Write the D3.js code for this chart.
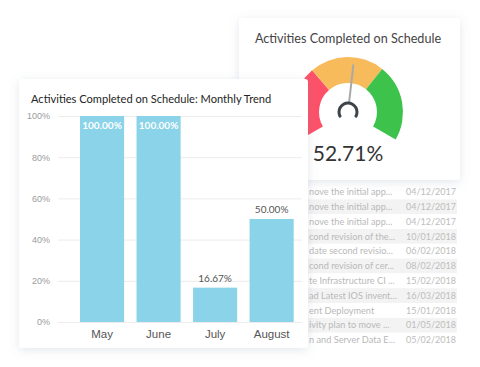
<!DOCTYPE html>
<html>

<head>
    <title>Activities Completed on Schedule</title>
    <script src="https://cdnjs.cloudflare.com/ajax/libs/d3/7.8.5/d3.min.js"></script>
    <style>
        body { margin: 0; background: #fff; }
        svg { display: block; font-family: Lato, "Open Sans", sans-serif; }
    </style>
</head>

<body>
    <div id="chart"></div>
    <script>
        // Monthly trend data
        const months = ["May", "June", "July", "August"];
        const completed = [100, 100, 16.67, 50];
        const yTicks = [0, 20, 40, 60, 80, 100];

        // Gauge data
        const gaugeValue = 52.71;
        const bandStops = [0, 33, 66, 100];
        const bandColors = ["#fc5168", "#f8bb5c", "#3dc34b"];

        // Activity table rows behind the cards
        const taskNames = ["nove the initial app...", "nove the initial app...", "nove the initial app...",
            "cond revision of the...", "date second revisio...", "cond revision of cer...",
            "te Infrastructure CI ...", "ad Latest IOS invent...", "ent Deployment",
            "ivity plan to move ...", "n and Server Data E..."];
        const taskDates = ["04/12/2017", "04/12/2017", "04/12/2017", "10/01/2018", "06/02/2018",
            "08/02/2018", "15/02/2018", "16/03/2018", "15/01/2018", "01/05/2018", "05/02/2018"];

        const svg = d3.select("#chart")
            .append("svg")
            .attr("width", 480)
            .attr("height", 367);

        const defs = svg.append("defs");
        defs.append("filter")
            .attr("id", "shadow")
            .attr("x", "-20%").attr("y", "-20%")
            .attr("width", "140%").attr("height", "140%")
            .append("feDropShadow")
            .attr("dx", 0).attr("dy", 2)
            .attr("stdDeviation", 5)
            .attr("flood-color", "#7d8fa8")
            .attr("flood-opacity", 0.22);

        // --- table in the back ---
        const rowY = d3.scaleBand()
            .domain(d3.range(taskNames.length))
            .range([184.5, 347.5]);

        const rows = svg.append("g").selectAll("g")
            .data(taskNames)
            .join("g")
            .attr("transform", (d, i) => `translate(0,${rowY(i)})`);

        rows.append("rect")
            .attr("x", 250)
            .attr("width", 207)
            .attr("height", rowY.bandwidth())
            .attr("fill", (d, i) => i % 2 ? "#f3f3f3" : "#fff");

        rows.append("text")
            .attr("x", 309)
            .attr("y", rowY.bandwidth() / 2)
            .attr("dy", "0.35em")
            .attr("font-size", 9.2)
            .attr("fill", "#b9b9b9")
            .text(d => d);

        rows.append("text")
            .attr("x", 406)
            .attr("y", rowY.bandwidth() / 2)
            .attr("dy", "0.35em")
            .attr("font-size", 9)
            .attr("fill", "#bdbdbd")
            .text((d, i) => taskDates[i]);

        // --- gauge card ---
        const gCard = svg.append("g");
        gCard.append("rect")
            .attr("x", 239).attr("y", 18)
            .attr("width", 221).attr("height", 162)
            .attr("rx", 3)
            .attr("fill", "#fff")
            .attr("filter", "url(#shadow)");

        gCard.append("text")
            .attr("x", 348).attr("y", 43)
            .attr("text-anchor", "middle")
            .attr("font-size", 12.6)
            .attr("fill", "#444")
            .text("Activities Completed on Schedule");

        const angle = d3.scaleLinear().domain([0, 100]).range([-2 * Math.PI / 3, 2 * Math.PI / 3]);
        const gauge = gCard.append("g").attr("transform", "translate(348,112)");
        const bandArc = d3.arc().innerRadius(29).outerRadius(55);

        gauge.selectAll("path.band")
            .data(bandColors)
            .join("path")
            .attr("class", "band")
            .attr("fill", d => d)
            .attr("d", (d, i) => bandArc({ startAngle: angle(bandStops[i]), endAngle: angle(bandStops[i + 1]) }));

        const a = angle(gaugeValue);
        gauge.append("line")
            .attr("x1", 10 * Math.sin(a)).attr("y1", -10 * Math.cos(a))
            .attr("x2", 47 * Math.sin(a)).attr("y2", -47 * Math.cos(a))
            .attr("stroke", "#a9a9a9")
            .attr("stroke-width", 2)
            .attr("stroke-linecap", "round");

        gauge.append("path")
            .attr("fill", "#3d4449")
            .attr("d", d3.arc().innerRadius(7.5).outerRadius(10.5).cornerRadius(1)({
                startAngle: -0.7 * Math.PI, endAngle: 0.7 * Math.PI
            }));

        gCard.append("text")
            .attr("x", 348).attr("y", 161)
            .attr("text-anchor", "middle")
            .attr("font-size", 21)
            .attr("fill", "#333")
            .text(gaugeValue.toFixed(2) + "%");

        // --- monthly trend card ---
        const bCard = svg.append("g");
        bCard.append("rect")
            .attr("x", 19).attr("y", 79)
            .attr("width", 289).attr("height", 269)
            .attr("rx", 3)
            .attr("fill", "#fff")
            .attr("filter", "url(#shadow)");

        bCard.append("text")
            .attr("x", 31).attr("y", 103)
            .attr("font-size", 11.1)
            .attr("fill", "#252525")
            .text("Activities Completed on Schedule: Monthly Trend");

        const x = d3.scaleBand()
            .domain(months)
            .range([68.7, 305])
            .paddingInner(0.22)
            .paddingOuter(0.2);

        const y = d3.scaleLinear().domain([0, 100]).range([322, 116]);

        const yAxis = bCard.append("g")
            .attr("transform", "translate(58,0)")
            .call(d3.axisLeft(y).tickValues(yTicks).tickFormat(d => d + "%").tickSize(-244).tickPadding(8));
        yAxis.select(".domain").remove();
        yAxis.selectAll(".tick line").attr("stroke", "#ececec");
        yAxis.selectAll(".tick text")
            .attr("font-size", 9)
            .attr("fill", "#9a9a9a")
            .attr("font-family", "inherit");

        bCard.selectAll("rect.bar")
            .data(completed)
            .join("rect")
            .attr("class", "bar")
            .attr("x", (d, i) => x(months[i]))
            .attr("width", x.bandwidth())
            .attr("y", d => y(d))
            .attr("height", d => y(0) - y(d))
            .attr("fill", "#8ad3e9");

        bCard.selectAll("text.val")
            .data(completed)
            .join("text")
            .attr("class", "val")
            .attr("x", (d, i) => x(months[i]) + x.bandwidth() / 2)
            .attr("y", d => d > 90 ? y(d) + 13 : y(d) - 6)
            .attr("text-anchor", "middle")
            .attr("font-size", 10)
            .attr("font-weight", d => d > 90 ? 700 : 400)
            .attr("fill", d => d > 90 ? "#fff" : "#555")
            .text(d => d.toFixed(2) + "%");

        const xAxis = bCard.append("g")
            .attr("transform", "translate(0,322)")
            .call(d3.axisBottom(x).tickSize(0).tickPadding(8));
        xAxis.select(".domain").remove();
        xAxis.selectAll(".tick text")
            .attr("font-size", 11.5)
            .attr("fill", "#555")
            .attr("font-family", "inherit");
    </script>
</body>

</html>
